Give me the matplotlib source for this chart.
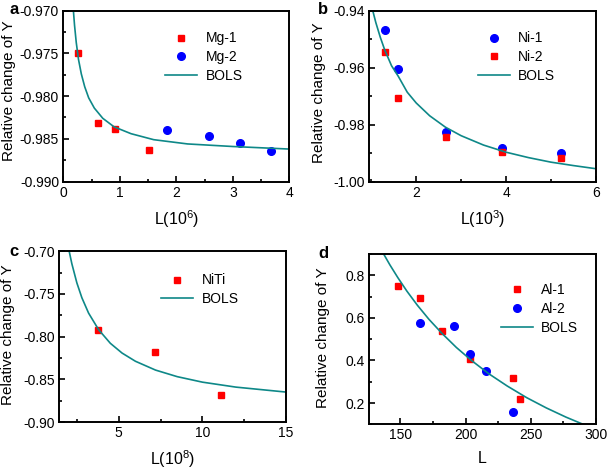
import numpy as np
import matplotlib
matplotlib.use('Agg')
import matplotlib.pyplot as plt
from matplotlib.ticker import MultipleLocator, FormatStrFormatter

plt.rcParams['font.family'] = ['Liberation Sans', 'DejaVu Sans']
plt.rcParams['font.size'] = 9
plt.rcParams['mathtext.default'] = 'regular'

# panel a: Mg
mg1_x = [0.27, 0.61, 0.92, 1.52]
mg1_y = [-0.9749, -0.9832, -0.9838, -0.9863]
mg2_x = [1.84, 2.57, 3.12, 3.68]
mg2_y = [-0.9840, -0.9847, -0.9855, -0.9864]
bols_a_x = [0.18, 0.20, 0.23, 0.27, 0.32, 0.38, 0.45, 0.55, 0.70, 0.90, 1.20, 1.60, 2.20, 3.00, 4.00]
bols_a_y = [-0.9700, -0.9717, -0.9737, -0.9757, -0.9774, -0.9789, -0.9802, -0.9814,
            -0.9826, -0.9836, -0.9844, -0.9851, -0.9856, -0.9859, -0.9862]

# panel b: Ni
ni1_x = [1.30, 1.60, 2.67, 3.90, 5.23]
ni1_y = [-0.9468, -0.9606, -0.9826, -0.9884, -0.9901]
ni2_x = [1.30, 1.60, 2.67, 3.90, 5.23]
ni2_y = [-0.9546, -0.9706, -0.9842, -0.9898, -0.9918]
bols_b_x = [1.03, 1.10, 1.20, 1.30, 1.45, 1.60, 1.80, 2.00, 2.30, 2.65, 3.00, 3.50,
            4.00, 4.50, 5.00, 5.50, 6.00]
bols_b_y = [-0.9398, -0.9441, -0.9493, -0.9538, -0.9593, -0.9630, -0.9686, -0.9724,
            -0.9769, -0.9809, -0.9839, -0.9872, -0.9897, -0.9916, -0.9932, -0.9944, -0.9955]

# panel c: NiTi
niti_x = [3.76, 7.16, 11.14]
niti_y = [-0.7922, -0.8183, -0.8685]
bols_c_x = [2.04, 2.2, 2.5, 2.8, 3.2, 3.8, 4.5, 5.2, 6.0, 7.2, 8.5, 10.0, 12.0, 15.0]
bols_c_y = [-0.700, -0.7147, -0.7371, -0.7545, -0.7724, -0.7918, -0.8077, -0.8191,
            -0.8287, -0.8390, -0.8467, -0.8531, -0.8589, -0.8647]

# panel d: Al
al1_x = [148.5, 165.3, 182.1, 203.1, 236.5, 241.8]
al1_y = [0.751, 0.694, 0.537, 0.405, 0.317, 0.220]
al2_x = [165.3, 191.1, 203.1, 215.8, 236.5]
al2_y = [0.574, 0.562, 0.430, 0.352, 0.160]
bols_d_x = [137.5, 142, 148, 155, 163, 172, 182, 193, 205, 218, 232, 247, 262, 277, 291]
bols_d_y = [0.897, 0.849, 0.790, 0.726, 0.660, 0.593, 0.527, 0.461, 0.398, 0.337,
            0.280, 0.225, 0.177, 0.134, 0.098]

RED = '#ff0000'
BLUE = '#0000ff'
TEAL = '#0e8888'

fig = plt.figure(figsize=(6.08, 4.69), dpi=100)
ax_a = fig.add_axes([0.104, 0.613, 0.372, 0.364])
ax_b = fig.add_axes([0.607, 0.613, 0.373, 0.364])
ax_c = fig.add_axes([0.0975, 0.0996, 0.373, 0.365])
ax_d = fig.add_axes([0.607, 0.0953, 0.373, 0.363])


def style(ax, xlim, ylim, xmaj, xmin, ymaj, ymin, yfmt, xlabel, ylab_pos):
    ax.set_xlim(*xlim)
    ax.set_ylim(*ylim)
    ax.xaxis.set_major_locator(MultipleLocator(xmaj))
    ax.xaxis.set_minor_locator(MultipleLocator(xmin))
    ax.yaxis.set_major_locator(MultipleLocator(ymaj))
    ax.yaxis.set_minor_locator(MultipleLocator(ymin))
    ax.yaxis.set_major_formatter(FormatStrFormatter(yfmt))
    ax.tick_params(which='both', direction='in', top=False, right=False,
                   labelsize=10, width=1.2)
    ax.tick_params(which='major', length=4, pad=3)
    ax.tick_params(which='minor', length=2.5)
    for s in ax.spines.values():
        s.set_linewidth(1.4)
    ax.set_xlabel(xlabel, fontsize=11.5, labelpad=6)
    ax.set_ylabel('Relative change of Y', fontsize=11)
    ax.yaxis.set_label_coords(*ylab_pos)


def legend(ax, loc):
    ax.legend(loc='upper left', bbox_to_anchor=loc, frameon=False, fontsize=10,
              handlelength=2.3, handletextpad=0.6, labelspacing=0.35, borderpad=0)


ax_a.plot(mg1_x, mg1_y, 's', color=RED, ms=5, label='Mg-1')
ax_a.plot(mg2_x, mg2_y, 'o', color=BLUE, ms=5.5, label='Mg-2')
ax_a.plot(bols_a_x, bols_a_y, '-', color=TEAL, lw=1.2, label='BOLS')
style(ax_a, (0, 4), (-0.990, -0.970), 1, 0.5, 0.005, 0.0025, '%.3f', 'L(10$^6$)', (-0.207, 0.53))
legend(ax_a, (0.42, 0.92))

ax_b.plot(ni1_x, ni1_y, 'o', color=BLUE, ms=5.5, label='Ni-1')
ax_b.plot(ni2_x, ni2_y, 's', color=RED, ms=5, label='Ni-2')
ax_b.plot(bols_b_x, bols_b_y, '-', color=TEAL, lw=1.2, label='BOLS')
style(ax_b, (0.95, 6), (-1.00, -0.94), 2, 1, 0.02, 0.01, '%.2f', 'L(10$^3$)', (-0.19, 0.52))
legend(ax_b, (0.45, 0.92))

ax_c.plot(niti_x, niti_y, 's', color=RED, ms=5, label='NiTi')
ax_c.plot(bols_c_x, bols_c_y, '-', color=TEAL, lw=1.2, label='BOLS')
style(ax_c, (1.45, 15), (-0.90, -0.70), 5, 2.5, 0.05, 0.025, '%.2f', 'L(10$^8$)', (-0.195, 0.51))
legend(ax_c, (0.42, 0.91))

ax_d.plot(al1_x, al1_y, 's', color=RED, ms=5, label='Al-1')
ax_d.plot(al2_x, al2_y, 'o', color=BLUE, ms=5.5, label='Al-2')
ax_d.plot(bols_d_x, bols_d_y, '-', color=TEAL, lw=1.2, label='BOLS')
style(ax_d, (126, 300), (0.1, 0.9), 50, 25, 0.2, 0.1, '%.1f', 'L', (-0.172, 0.51))
legend(ax_d, (0.55, 0.87))

# panel letters
for letter, (px, py) in zip('abcd', [(9, 10), (318, 10), (9, 252), (318, 254)]):
    fig.text(px / 608, 1 - py / 469, letter, fontsize=12, fontweight='bold',
             va='center', ha='left')

fig.savefig('out.png', dpi=100)
